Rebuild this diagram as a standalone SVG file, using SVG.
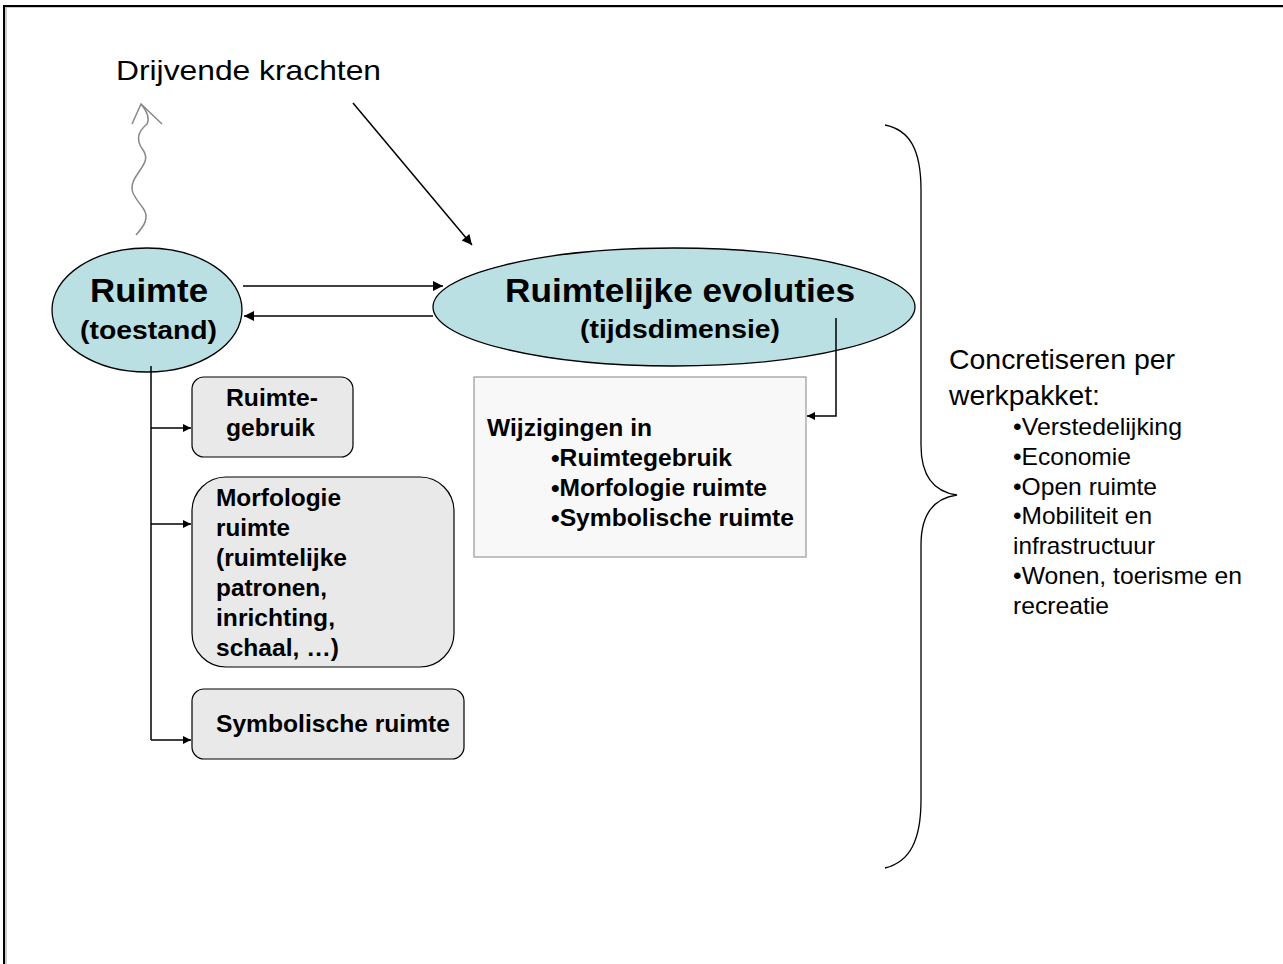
<svg xmlns="http://www.w3.org/2000/svg" width="1283" height="964" viewBox="0 0 1283 964">
<defs>
<marker id="ah" viewBox="0 0 10 10" refX="10" refY="5" markerWidth="10" markerHeight="8" markerUnits="userSpaceOnUse" orient="auto">
<path d="M0,0 L10,5 L0,10 z" fill="#000"/>
</marker>
<marker id="ahBig" viewBox="0 0 10 10" refX="10" refY="5" markerWidth="12" markerHeight="10" markerUnits="userSpaceOnUse" orient="auto">
<path d="M0,0 L10,5 L0,10 z" fill="#000"/>
</marker>
</defs>
<style>
.b{font-family:"Liberation Sans",Arial,sans-serif;font-weight:bold;fill:#000}
.r{font-family:"Liberation Sans",Arial,sans-serif;fill:#000}
.ell{fill:#bae0e3;stroke:#000;stroke-width:1.3}
.box{fill:#e9e9e9;stroke:#000;stroke-width:1.2}
.ln{fill:none;stroke:#000;stroke-width:1.5}
</style>
<rect width="1283" height="964" fill="#fff"/>
<path d="M4,964 L4,6 L1283,6" fill="none" stroke="#999" stroke-width="1" transform="translate(2,1)"/>
<path d="M4,964 L4,6 L1283,6" fill="none" stroke="#000" stroke-width="2"/>

<g id="drijvende">
<text class="r" x="116" y="80" font-size="28" textLength="265" lengthAdjust="spacingAndGlyphs">Drijvende krachten</text>
</g>

<g id="ruimte">
<ellipse class="ell" cx="147" cy="310" rx="95" ry="62"/>
<text class="b" x="90" y="302" font-size="34" textLength="118" lengthAdjust="spacingAndGlyphs">Ruimte</text>
<text class="b" x="80" y="339" font-size="26" textLength="137" lengthAdjust="spacingAndGlyphs">(toestand)</text>
</g>

<g id="evoluties">
<ellipse class="ell" cx="674" cy="307" rx="241" ry="59"/>
<text class="b" x="505" y="302" font-size="34" textLength="350" lengthAdjust="spacingAndGlyphs">Ruimtelijke evoluties</text>
<text class="b" x="580" y="338" font-size="26" textLength="200" lengthAdjust="spacingAndGlyphs">(tijdsdimensie)</text>
</g>

<g id="ruimtegebruik">
<rect class="box" x="192" y="377" width="161" height="80" rx="12"/>
<text class="b" x="226" y="406" font-size="24" textLength="92" lengthAdjust="spacingAndGlyphs">Ruimte-</text>
<text class="b" x="226" y="436" font-size="24" textLength="89" lengthAdjust="spacingAndGlyphs">gebruik</text>
</g>

<g id="morfologie">
<rect class="box" x="192" y="477" width="262" height="190" rx="34"/>
<text class="b" x="216" y="506" font-size="24" textLength="125" lengthAdjust="spacingAndGlyphs">Morfologie</text>
<text class="b" x="216" y="536" font-size="24" textLength="74" lengthAdjust="spacingAndGlyphs">ruimte</text>
<text class="b" x="216" y="566" font-size="24" textLength="131" lengthAdjust="spacingAndGlyphs">(ruimtelijke</text>
<text class="b" x="216" y="596" font-size="24" textLength="111" lengthAdjust="spacingAndGlyphs">patronen,</text>
<text class="b" x="216" y="626" font-size="24" textLength="119" lengthAdjust="spacingAndGlyphs">inrichting,</text>
<text class="b" x="216" y="656" font-size="24" textLength="123" lengthAdjust="spacingAndGlyphs">schaal, …)</text>
</g>

<g id="symbolische">
<rect class="box" x="192" y="689" width="272" height="70" rx="12"/>
<text class="b" x="216" y="732" font-size="24" textLength="234" lengthAdjust="spacingAndGlyphs">Symbolische ruimte</text>
</g>

<g id="wijzigingen">
<rect x="474" y="377" width="332" height="180" fill="#f8f8f8" stroke="#999" stroke-width="1.2"/>
<text class="b" x="487" y="436" font-size="24" textLength="165" lengthAdjust="spacingAndGlyphs">Wijzigingen in</text>
<text class="b" x="551" y="466" font-size="24" textLength="181" lengthAdjust="spacingAndGlyphs">•Ruimtegebruik</text>
<text class="b" x="551" y="496" font-size="24" textLength="216" lengthAdjust="spacingAndGlyphs">•Morfologie ruimte</text>
<text class="b" x="551" y="526" font-size="24" textLength="243" lengthAdjust="spacingAndGlyphs">•Symbolische ruimte</text>
</g>

<g id="concretiseren">
<path d="M885,125 C910,130 921,150 921,190 L921,445 C921,478 935,492 957,495 C935,498 921,512 921,545 L921,800 C921,840 910,862 885,868" fill="none" stroke="#000" stroke-width="1.3"/>
<text class="r" x="949" y="369" font-size="28" textLength="226" lengthAdjust="spacingAndGlyphs">Concretiseren per</text>
<text class="r" x="949" y="405" font-size="28" textLength="151" lengthAdjust="spacingAndGlyphs">werkpakket:</text>
<text class="r" x="1013" y="435" font-size="24" textLength="169" lengthAdjust="spacingAndGlyphs">•Verstedelijking</text>
<text class="r" x="1013" y="465" font-size="24" textLength="118" lengthAdjust="spacingAndGlyphs">•Economie</text>
<text class="r" x="1013" y="495" font-size="24" textLength="144" lengthAdjust="spacingAndGlyphs">•Open ruimte</text>
<text class="r" x="1013" y="524" font-size="24" textLength="139" lengthAdjust="spacingAndGlyphs">•Mobiliteit en</text>
<text class="r" x="1013" y="554" font-size="24" textLength="142" lengthAdjust="spacingAndGlyphs">infrastructuur</text>
<text class="r" x="1013" y="584" font-size="24" textLength="229" lengthAdjust="spacingAndGlyphs">•Wonen, toerisme en</text>
<text class="r" x="1013" y="614" font-size="24" textLength="96" lengthAdjust="spacingAndGlyphs">recreatie</text>
</g>

<g id="connectors">
<path d="M136,235 C144,226 150,218 143,208 C134,196 128,190 135,178 C142,166 150,160 143,150 C134,138 140,130 147,124 C150,118 146,110 141,104" fill="none" stroke="#888" stroke-width="1.5"/>
<path d="M132,124 L141,104 L162,124" fill="none" stroke="#888" stroke-width="1.5"/>
<line class="ln" x1="353" y1="103" x2="472" y2="245" marker-end="url(#ahBig)"/>
<line class="ln" x1="243" y1="286" x2="443" y2="286" marker-end="url(#ahBig)"/>
<line class="ln" x1="433" y1="316" x2="244" y2="316" marker-end="url(#ahBig)"/>
<polyline class="ln" points="836,318 836,416 807,416" marker-end="url(#ah)"/>
<line class="ln" x1="151" y1="366" x2="151" y2="740"/>
<line class="ln" x1="151" y1="428" x2="191" y2="428" marker-end="url(#ah)"/>
<line class="ln" x1="151" y1="524" x2="191" y2="524" marker-end="url(#ah)"/>
<line class="ln" x1="151" y1="740" x2="191" y2="740" marker-end="url(#ah)"/>
</g>
</svg>
